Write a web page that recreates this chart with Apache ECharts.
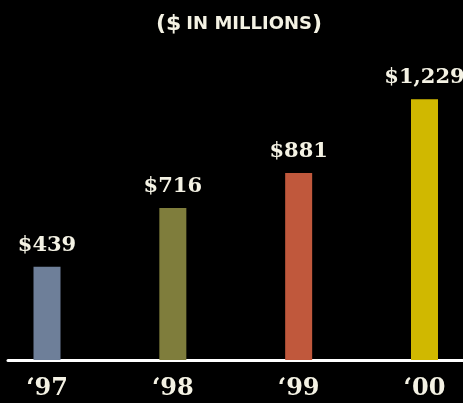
<!DOCTYPE html>
<html>
<head>
<meta charset="utf-8">
<style>
  html, body { margin: 0; padding: 0; background: #000; }
  #chart { width: 463px; height: 403px; }
</style>
<script src="https://cdn.jsdelivr.net/npm/echarts@6/dist/echarts.min.js"></script>
</head>
<body>
<div id="chart"></div>
<script>
// Fiscal years shown along the baseline
const categories = ['\u201897', '\u201898', '\u201899', '\u201800'];
// Amounts in $ millions
const revenue = [439, 716, 881, 1229];
// One fill per year
const barColors = ['#6E7F99', '#7F7D3C', '#C0583C', '#D0B800'];

const chart = echarts.init(document.getElementById('chart'));

const labelColor = '#F4F2E4';

chart.setOption({
  backgroundColor: '#000000',
  animation: false,
  title: {
    text: '{p|(}{p|$} {s|IN MILLIONS}{p|)}',
    left: 151,
    top: 8,
    textStyle: {
      rich: {
        p: { fontFamily: 'DejaVu Sans', fontWeight: 'bold', fontSize: 22, color: labelColor },
        s: { fontFamily: 'DejaVu Sans', fontWeight: 'bold', fontSize: 18, color: labelColor }
      }
    }
  },
  grid: { left: 8, right: 0, top: 63, bottom: 43, containLabel: false },
  xAxis: {
    type: 'value',
    min: -0.31,
    max: 3.306,
    splitLine: { show: false },
    axisTick: { show: false },
    axisLine: { show: true, onZero: false, lineStyle: { color: '#FFFFFF', width: 3 } },
    axisLabel: {
      customValues: [0, 1, 2, 3],
      formatter: (v) => categories[Math.round(v)],
      color: labelColor,
      fontFamily: 'DejaVu Serif',
      fontWeight: 'bold',
      fontSize: 24,
      margin: 17
    }
  },
  yAxis: {
    type: 'value',
    min: 0,
    max: 1400,
    show: false
  },
  series: [{
    type: 'bar',
    barWidth: 27,
    data: revenue.map((v, i) => ({ value: [i, v], itemStyle: { color: barColors[i] } })),
    label: {
      show: true,
      position: 'top',
      distance: 11,
      formatter: (p) => '$' + p.value[1].toLocaleString('en-US'),
      color: labelColor,
      fontFamily: 'DejaVu Serif',
      fontWeight: 'bold',
      fontSize: 21
    },
    z: 1
  }]
});
</script>
</body>
</html>
